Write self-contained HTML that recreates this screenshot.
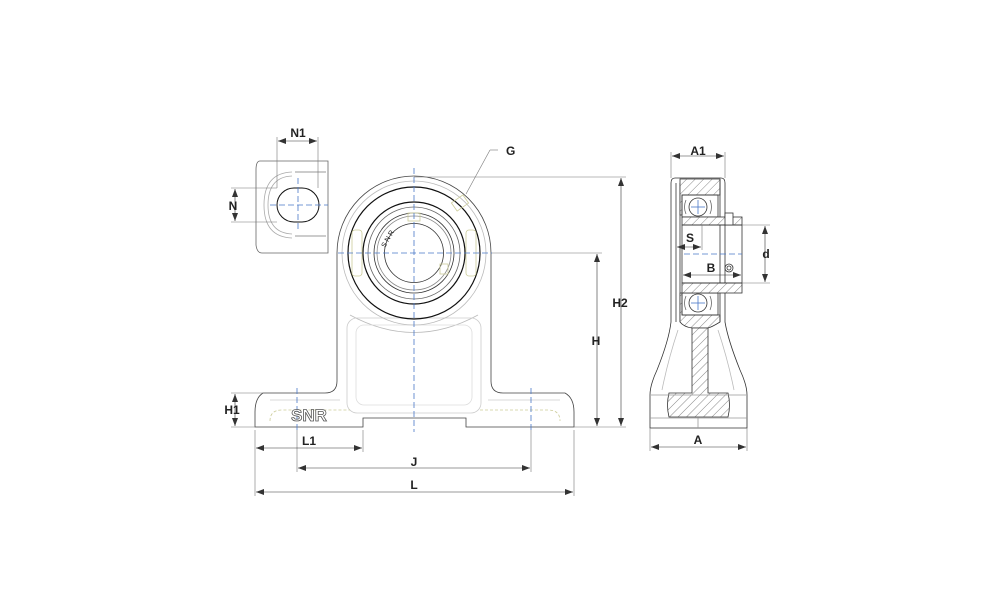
<!DOCTYPE html>
<html><head><meta charset="utf-8"><style>
html,body{margin:0;padding:0;background:#fff;width:1000px;height:611px;overflow:hidden}
svg{display:block}
text{font-family:"Liberation Sans",sans-serif;font-weight:bold;font-size:12px;fill:#222}
</style></head><body>
<svg width="1000" height="611" viewBox="0 0 1000 611" xmlns="http://www.w3.org/2000/svg">
<defs>
<pattern id="h" width="6" height="6" patternUnits="userSpaceOnUse" patternTransform="rotate(45)">
<rect width="6" height="6" fill="#fff"/><line x1="0" y1="0" x2="0" y2="6" stroke="#555" stroke-width="0.7"/></pattern>
<marker id="a" markerWidth="8" markerHeight="6" refX="8" refY="3" orient="auto-start-reverse" markerUnits="userSpaceOnUse"><path d="M0,0 L8,3 L0,6 z" fill="#333"/></marker>
</defs>
<g fill="none" stroke="#333" stroke-width="0.8">
<!-- main housing -->
<path d="M337,253 A77,77 0 0 1 491,253 L491,381 Q491,393 503,393 L565,393 Q574,398 574,412 L574,427 L466,427 L466,418 L363,418 L363,427 L255,427 L255,412 Q255,398 263,393 L325,393 Q337,393 337,381 Z" stroke="#444"/>
<path d="M350,315 Q414,350 478,315" stroke="#bbb"/>
<rect x="347" y="318" width="134" height="95" rx="10" stroke="#ccc"/>
<rect x="356" y="325" width="116" height="80" rx="8" stroke="#ddd"/>
<path d="M270,400 L340,400 M488,400 L560,400" stroke="#ccc"/>
<path d="M270,421 Q270,410 282,410 L350,410 M480,410 L548,410 Q560,410 560,421" stroke="#cc9" stroke-dasharray="3,2"/>
<circle cx="414" cy="253" r="72" stroke="#bbb"/>
<circle cx="414" cy="253" r="66" stroke="#111" stroke-width="1.2"/>
<circle cx="414" cy="253" r="51" stroke="#111" stroke-width="1.2"/>
<circle cx="414" cy="253" r="46" stroke="#666"/>
<circle cx="414" cy="253" r="40" stroke="#333"/>
<circle cx="414" cy="253" r="37" stroke="#888"/>
<circle cx="414" cy="253" r="29.5" stroke="#333"/>
<rect x="352" y="230" width="10" height="46" rx="3" stroke="#cc9"/>
<rect x="466" y="230" width="10" height="46" rx="3" stroke="#cc9"/>
<rect x="408" y="213" width="12" height="8" stroke="#cc9"/>
<rect x="440" y="264" width="8" height="10" stroke="#cc9"/>
<rect x="453" y="198" width="14" height="10" transform="rotate(-35 460 203)" stroke="#cc9"/>
<!-- left inset -->
<path d="M260,161 L328,161 L328,253 L262,253 Q257,253 256,245 L256,170 Q256,161 260,161 Z" stroke="#666"/>
<path d="M292,172 Q264,173 264,205 Q264,237 292,238" stroke="#aaa"/>
<path d="M292,176 Q268,177 268,205 Q268,233 292,234" stroke="#aaa"/>
<path d="M295,172 L326,172 M295,236 L326,236" stroke="#ccc" stroke-width="2"/>
<rect x="277" y="188" width="42" height="34" rx="17" stroke="#111" stroke-width="1"/>
<!-- side view -->
<!-- outer silhouette -->
<path d="M675,178 L721,178 Q725,178 725,183 L725,322 Q728,340 740,370 Q747,385 747,395 L747,428 L650,428 L650,395 Q650,385 657,370 Q669,340 671,322 L671,183 Q671,178 675,178 Z"/>
<!-- cover strip -->
<line x1="676" y1="183" x2="676" y2="322"/>
<line x1="680" y1="183" x2="680" y2="322"/>
<!-- top housing hatch -->
<path d="M680,179 L720,179 L720,195 L682,195 L682,215 L680,215 Z" fill="url(#h)"/>
<path d="M680,293 L682,293 L682,315 L720,315 L720,322 Q712,327 708,328 L692,328 Q684,327 680,322 Z" fill="url(#h)"/>
<line x1="720" y1="179" x2="720" y2="322"/>
<!-- bearing outer rings -->
<rect x="682" y="195" width="36" height="22"/>
<rect x="682" y="293" width="36" height="22"/>
<circle cx="698" cy="207" r="9"/><circle cx="698" cy="303" r="9"/>
<path d="M686,200 Q683,207 686,214 M710,200 Q713,207 710,214 M686,296 Q683,303 686,310 M710,296 Q713,303 710,310" stroke="#666"/>
<!-- inner rings -->
<rect x="682" y="217" width="60" height="8" fill="url(#h)"/>
<rect x="682" y="283" width="60" height="10" fill="url(#h)"/>
<rect x="682" y="225" width="60" height="58"/>
<rect x="725" y="213" width="8" height="12" fill="#fff"/>
<circle cx="729" cy="268" r="4"/><circle cx="729" cy="268" r="2"/>
<!-- stem and foot -->
<path d="M692,328 L708,328 L708,393 L728,393 Q731,405 728,417 L669,417 Q666,405 669,393 L692,393 Z" fill="url(#h)"/>
<line x1="651" y1="395" x2="746" y2="395" stroke="#999"/>
<line x1="650" y1="418" x2="747" y2="418" stroke="#999"/>
<line x1="698" y1="418" x2="698" y2="428" stroke="#999"/>
<path d="M678,330 Q668,360 662,390 M718,330 Q728,360 734,390" stroke="#bbb"/>
</g>
<!-- center lines -->
<g stroke="#4a78c8" stroke-width="0.8" stroke-dasharray="6,3" fill="none">
<line x1="414" y1="168" x2="414" y2="432"/>
<line x1="338" y1="253" x2="492" y2="253"/>
<line x1="298" y1="178" x2="298" y2="232"/>
<line x1="270" y1="205" x2="328" y2="205"/>
<line x1="297" y1="388" x2="297" y2="430"/>
<line x1="531" y1="388" x2="531" y2="430"/>
<line x1="684" y1="254" x2="742" y2="254"/>
<line x1="698" y1="200" x2="698" y2="214" stroke-dasharray="none"/><line x1="691" y1="207" x2="705" y2="207" stroke-dasharray="none"/>
<line x1="698" y1="296" x2="698" y2="310" stroke-dasharray="none"/><line x1="691" y1="303" x2="705" y2="303" stroke-dasharray="none"/>
</g>
<!-- dimension lines -->
<g stroke="#777" stroke-width="0.6" fill="none">
<line x1="414" y1="177" x2="626" y2="177"/>
<line x1="492" y1="253" x2="602" y2="253"/>
<line x1="574" y1="427" x2="626" y2="427"/>
<line x1="255" y1="430" x2="255" y2="496"/><line x1="574" y1="430" x2="574" y2="496"/>
<line x1="363" y1="430" x2="363" y2="452"/>
<line x1="297" y1="430" x2="297" y2="472"/><line x1="531" y1="430" x2="531" y2="472"/>
<line x1="277" y1="137" x2="277" y2="188"/><line x1="318" y1="137" x2="318" y2="188"/>
<line x1="231" y1="188" x2="277" y2="188"/><line x1="231" y1="222" x2="277" y2="222"/>
<line x1="231" y1="393" x2="263" y2="393"/><line x1="231" y1="427" x2="255" y2="427"/>
<line x1="671" y1="152" x2="671" y2="178"/><line x1="725" y1="152" x2="725" y2="178"/>
<line x1="650" y1="428" x2="650" y2="451"/><line x1="747" y1="428" x2="747" y2="451"/>
<line x1="742" y1="225" x2="770" y2="225"/><line x1="742" y1="283" x2="770" y2="283"/>
<line x1="702" y1="225" x2="702" y2="250"/>
<line x1="466" y1="194" x2="490" y2="150"/><line x1="490" y1="150" x2="498" y2="150"/>
</g>
<g stroke="#333" stroke-width="0.6" marker-start="url(#a)" marker-end="url(#a)">
<line x1="621" y1="178" x2="621" y2="426"/>
<line x1="597" y1="254" x2="597" y2="426"/>
<line x1="256" y1="492" x2="573" y2="492"/>
<line x1="298" y1="468" x2="530" y2="468"/>
<line x1="256" y1="448" x2="362" y2="448"/>
<line x1="278" y1="141" x2="317" y2="141"/>
<line x1="235" y1="189" x2="235" y2="221"/>
<line x1="235" y1="394" x2="235" y2="426"/>
<line x1="672" y1="156" x2="724" y2="156"/>
<line x1="651" y1="447" x2="746" y2="447"/>
<line x1="765" y1="226" x2="765" y2="282"/>
<line x1="677" y1="247" x2="701" y2="247"/>
<line x1="683" y1="275" x2="741" y2="275"/>
</g>
<text x="298" y="137" text-anchor="middle">N1</text>
<text x="233" y="210" text-anchor="middle">N</text>
<text x="506" y="155">G</text>
<text x="620" y="307" text-anchor="middle">H2</text>
<text x="596" y="345" text-anchor="middle">H</text>
<text x="232" y="414" text-anchor="middle">H1</text>
<text x="309" y="445" text-anchor="middle">L1</text>
<text x="414" y="466" text-anchor="middle">J</text>
<text x="414" y="489" text-anchor="middle">L</text>
<text x="698" y="155" text-anchor="middle">A1</text>
<text x="698" y="444" text-anchor="middle">A</text>
<text x="766" y="258" text-anchor="middle">d</text>
<text x="690" y="242" text-anchor="middle">S</text>
<text x="711" y="272" text-anchor="middle">B</text>
<text x="309" y="421" text-anchor="middle" style="font-size:17px;fill:#fff;stroke:#555;stroke-width:0.8">SNR</text>
<text x="385" y="248" style="font-size:7px;font-weight:normal" transform="rotate(-60 385 248)">S N R</text>
</svg>
</body></html>
